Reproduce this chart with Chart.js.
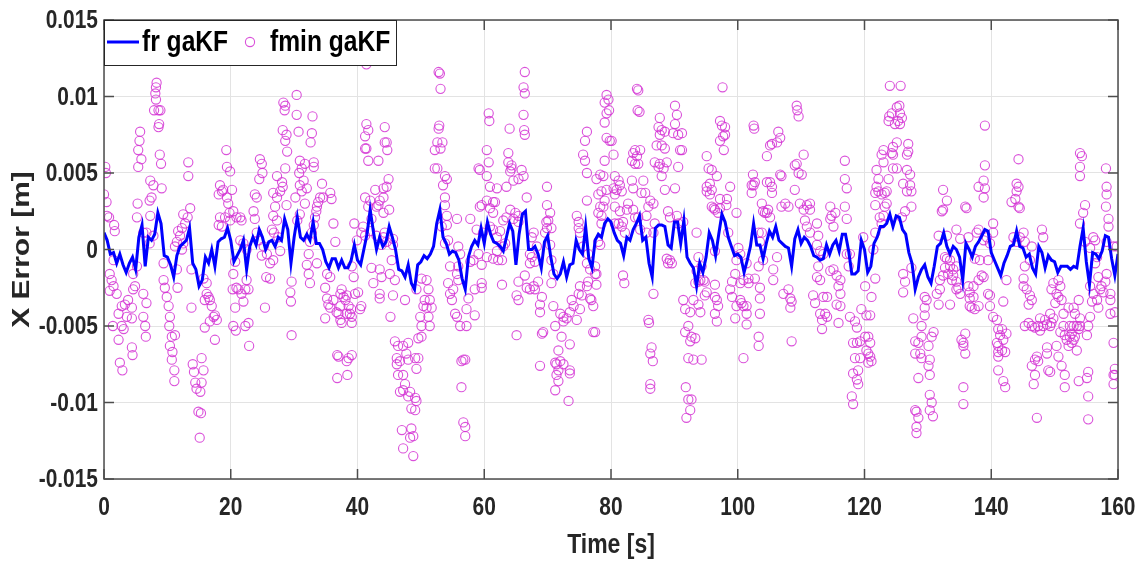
<!DOCTYPE html>
<html>
<head>
<meta charset="utf-8">
<script src="https://cdn.jsdelivr.net/npm/chart.js@4"></script>
<style>
  body { margin: 0; background: #fff; }
  #wrap { width: 1148px; height: 568px; }
</style>
</head>
<body>
<div id="wrap"><canvas id="errChart"></canvas></div>
<script>
// X position error of both filters over the run (errors kept in mm, plotted in m)

// fr gaKF, one sample every frStep seconds from t = 0
const frStep = 0.5;
const frErrMm = [
  1.1, 0.6, -0.3, -0.2, -0.9, -0.3, -1.0, -1.5, -0.9, -0.5, -1.3, 0.8, 1.6, -1.1, 0.8, 0.6, 1.0, 2.4, 1.7, -0.4,
  -0.5, -1.0, -1.8, -0.4, 0.2, 0.4, 0.6, 1.4, -0.9, -1.3, -2.4, -2.0, -0.5, -0.9, 0.0, -1.1, 0.5, 0.7, 0.8, 1.4,
  0.6, -0.8, -0.4, 0.0, 0.6, -1.3, 0.2, 0.8, 0.3, 1.3, 0.8, 0.0, 0.5, 0.6, 0.2, 0.8, 0.6, 2.0, 1.3, -0.9,
  0.8, 2.1, 0.8, 0.6, 1.0, 0.6, 1.8, 0.4, 0.4, 0.0, -0.8, -1.2, -0.6, -0.6, -1.2, -0.7, -1.2, -1.2, -0.7, 0.3,
  -0.7, -1.0, 0.0, 1.0, 2.6, 1.2, 0.0, 0.8, 0.2, 0.5, 1.5, 0.8, 0.0, -1.3, -1.4, -1.8, -1.0, -2.2, -2.6, -1.0,
  -0.8, -0.4, -0.6, -0.3, 0.2, 1.7, 2.6, 0.8, 0.4, -0.3, -0.1, -0.2, -0.7, -1.9, -2.6, -0.5, 0.2, 0.6, 0.3, 1.4,
  0.4, 1.8, 1.0, 0.5, 0.4, 0.2, -0.1, 0.8, 1.7, 1.2, -1.0, 1.0, 2.3, 2.5, 0.0, 0.0, 0.2, -0.3, -1.2, 0.5,
  0.9, -0.5, -1.6, -1.9, -1.6, -0.8, -1.8, -1.0, -0.9, 0.6, 0.0, -0.3, 1.5, -0.6, -1.2, 0.6, 1.0, 0.8, 1.7, 2.0,
  1.8, 1.1, 0.6, 0.4, -0.4, 0.8, 0.6, 1.3, 1.7, 2.2, 0.6, 0.8, -0.9, -1.8, 1.4, 1.6, 1.6, 1.5, 0.3, 0.1,
  1.8, 1.8, 0.4, 1.9, -0.5, -0.9, -1.2, -2.4, -0.9, -1.5, -0.5, 1.1, 0.6, -0.4, 1.0, 2.3, 1.8, 0.8, 0.2, -0.4,
  -0.3, -0.5, -1.5, -0.7, 0.2, 1.7, 0.3, 0.3, -0.6, 0.4, 1.2, 0.8, 1.5, 0.6, 0.4, 0.2, 0.1, -1.1, 0.7, 1.3,
  0.4, 0.8, 0.6, 0.2, -0.4, -0.5, -0.7, -0.6, 0.3, -0.3, 0.3, 0.6, -0.1, 1.0, 1.0, -0.1, -1.6, -1.6, -1.4, 0.6,
  0.0, -1.5, -1.1, 0.4, 0.8, 1.5, 1.5, 1.7, 2.3, 1.5, 2.2, 2.1, 1.3, 1.0, -0.2, -0.9, -2.6, -1.8, -1.3, -1.0,
  -1.8, -2.2, -1.1, 0.2, 0.4, 1.1, 0.2, -0.3, 0.2, 0.0, -0.5, -2.0, 0.4, 0.0, -0.5, 0.2, 0.5, 0.9, 1.3, 1.2,
  -0.2, -0.7, -1.2, -1.7, -0.9, -0.4, 0.2, 0.3, 1.2, 0.2, 0.1, -0.5, -0.3, -1.2, -1.6, 0.2, -0.2, -1.2, -0.4, -0.7,
  -0.8, -1.5, -1.1, -1.1, -1.1, -1.3, -1.1, -1.2, 0.2, 1.4, -0.8, -2.3, -0.2, -0.3, -0.6, -0.1, 0.9, 0.8, -0.6, -1.7,
  -0.3
];

// fmin gaKF, [time s, error mm]
const fminSamples = [
  [8.3,10.9],[8.2,10.6],[8.1,10.2],[8.2,9.8],[7.9,9.1],[8.6,9.1],[8.9,9.1],[8.7,8.2],[8.6,8.0],[8.8,6.2],[9.0,5.6],
  [5.7,7.7],[5.6,7.1],[5.4,6.5],[5.9,5.9],[5.4,5.4],[0.2,5.4],[0.3,5.0],[0.0,3.6],[0.4,3.1],[0.5,2.2],[0.8,2.1],
  [1.6,1.6],[1.7,1.2],[1.5,-0.7],[7.3,4.5],[7.8,4.2],[7.5,3.4],[7.2,3.2],[9.1,4.0],[5.3,3.0],[5.2,2.1],[7.3,2.2],
  [6.2,1.1],[6.7,1.1],[7.8,0.9],[7.2,0.4],[13.3,5.7],[13.3,4.8],[12.5,2.3],[13.2,2.1],[13.6,2.7],[12.8,1.7],[12.3,1.4],
  [12.0,0.9],[11.7,1.2],[11.5,0.5],[12.5,0.4],[11.2,0.2],[12.3,0.0],[13.8,-1.3],[0.9,-1.6],[1.2,-2.0],[1.5,-2.4],
  [0.9,-2.7],[2.0,-2.9],[2.8,-3.7],[2.3,-4.2],[3.3,-3.6],[3.8,-3.3],[4.4,-3.8],[3.6,-4.4],[4.4,-4.5],[2.8,-5.0],
  [1.4,-5.0],[2.3,-5.9],[3.1,-5.2],[2.5,-7.4],[2.9,-7.9],[4.4,-6.4],[4.5,-6.9],[4.6,-2.6],[4.9,-2.4],[6.2,-2.9],
  [6.7,-3.5],[6.5,-5.0],[6.6,-5.7],[6.2,-4.4],[5.2,-1.1],[4.6,-1.6],[9.4,-2.0],[9.6,-2.5],[9.9,-3.1],[10.2,-3.7],
  [10.4,-4.4],[10.3,-5.0],[10.7,-5.7],[11.2,-5.6],[10.4,-6.3],[10.8,-6.7],[10.7,-7.2],[11.1,-7.9],[11.1,-8.6],
  [9.4,-0.9],[11.5,-1.3],[11.6,-2.5],[14.0,-7.5],[14.2,-8.0],[14.4,-8.7],[14.6,-9.1],[15.2,-9.3],[15.4,-8.7],
  [15.7,-7.9],[15.4,-7.1],[14.9,-10.6],[15.3,-10.7],[15.1,-12.3],[13.8,-3.8],[15.9,-3.3],[16.2,-2.9],[16.5,-3.1],
  [16.7,-3.3],[17.0,-3.7],[15.7,-1.9],[16.2,-2.2],[17.3,-4.4],[17.8,-4.6],[17.5,-5.9],[15.9,-5.1],[16.7,-4.7],
  [17.5,-4.3],[18.3,4.2],[18.6,3.8],[18.1,3.6],[18.8,3.9],[19.4,3.4],[19.6,3.0],[19.3,6.5],[19.4,5.4],[19.9,5.1],
  [20.2,3.9],[19.8,2.4],[19.9,1.9],[18.3,2.1],[18.1,1.6],[18.6,1.5],[19.1,2.1],[20.4,2.5],[20.9,2.1],[21.5,2.1],
  [21.7,1.9],[21.5,0.6],[22.0,0.4],[22.5,0.0],[20.7,-0.8],[20.4,-1.6],[20.9,-2.5],[20.3,-2.6],[21.2,-2.6],
  [21.7,-2.9],[22.5,-2.0],[22.3,-2.6],[22.8,-2.6],[22.0,-3.4],[20.7,-3.8],[20.4,-5.0],[20.8,-5.3],[22.3,-5.0],
  [22.8,-4.8],[22.9,-6.3],[24.6,5.9],[24.9,5.6],[25.0,5.0],[24.5,4.6],[23.8,3.6],[24.1,3.4],[23.6,2.5],[23.8,2.0],
  [24.1,1.1],[24.4,0.6],[25.2,0.2],[25.7,-0.3],[24.9,-0.4],[26.2,-0.9],[26.7,-0.7],[26.2,-1.9],[25.6,-1.8],
  [25.4,-3.8],[28.3,9.6],[28.6,9.4],[28.5,9.1],[30.4,10.1],[30.4,8.8],[30.7,7.7],[28.2,7.8],[28.8,7.5],[28.6,7.1],
  [28.9,6.4],[28.6,5.3],[27.3,4.8],[28.1,4.4],[28.2,4.1],[27.8,3.8],[26.7,3.7],[27.3,3.4],[27.0,2.8],[26.7,2.2],
  [27.3,1.9],[26.5,1.3],[26.8,1.1],[27.5,0.8],[28.8,2.9],[27.8,-0.1],[32.9,8.7],[32.8,7.6],[32.6,7.0],[33.1,5.7],
  [33.1,5.4],[30.9,5.8],[31.7,5.6],[31.2,5.3],[30.8,5.0],[30.9,4.2],[31.5,4.5],[32.0,4.0],[31.2,3.8],[31.7,3.0],
  [30.9,2.3],[30.5,1.9],[30.2,3.4],[34.4,4.3],[34.1,3.4],[33.8,3.1],[34.6,3.4],[33.6,2.8],[33.5,2.5],[33.3,2.1],
  [33.1,1.6],[32.8,1.1],[32.5,0.5],[32.3,-0.3],[32.0,-1.0],[32.3,-1.6],[32.5,-2.2],[33.6,-0.9],[29.6,-2.1],
  [29.4,-2.8],[29.5,-3.4],[29.6,-5.6],[35.7,3.7],[35.9,3.3],[36.2,1.7],[36.5,0.5],[35.2,-1.6],[35.7,-1.8],
  [34.9,-2.5],[35.2,-3.2],[35.4,-3.6],[35.7,-3.8],[34.9,-4.5],[36.2,-3.3],[36.7,-4.1],[37.0,-4.2],[37.3,-3.7],
  [37.3,-2.9],[37.5,-2.6],[37.8,-3.1],[38.1,-3.3],[38.3,-3.0],[38.6,-3.7],[38.3,-4.2],[37.3,-4.6],[37.5,-4.8],
  [38.8,-4.2],[39.1,-4.4],[39.4,-1.8],[39.6,-2.9],[39.5,1.7],[39.9,0.6],[40.4,-3.9],[36.8,-6.9],[37.0,-7.0],
  [36.8,-8.4],[38.3,-7.3],[38.6,-7.1],[39.1,-6.9],[38.4,-8.2],
  [41.4,12.1],[41.4,8.2],[41.7,7.8],[41.2,7.4],[41.2,6.6],[41.4,6.6],[41.7,5.8],[43.3,5.8],[44.3,8.0],[44.3,7.0],
  [44.6,7.0],[44.7,6.5],[41.2,3.4],[42.0,3.2],[42.8,3.9],[44.1,4.0],[44.6,4.1],[44.9,4.6],[44.1,3.4],[43.5,3.2],
  [43.3,2.9],[43.0,2.8],[41.7,2.8],[42.2,2.0],[44.1,2.4],[45.0,2.6],[40.9,1.5],[40.6,1.1],[41.2,0.9],[42.0,1.2],
  [43.0,0.9],[44.1,0.8],[44.3,1.1],[44.6,0.5],[45.6,0.7],[45.6,0.3],[43.8,0.3],[45.4,-0.7],[45.1,-1.6],[45.9,-2.0],
  [45.6,-3.0],[42.2,-1.2],[42.5,-2.2],[43.5,-1.3],[43.8,-1.8],[43.5,-2.9],[43.5,-3.2],[40.6,-3.7],[40.1,-2.8],
  [39.1,-1.1],[39.0,-3.9],[39.1,-4.8],[45.2,-4.4],[45.9,-6.0],[46.4,-6.3],[47.2,-6.3],[48.0,-6.1],[46.2,-7.1],
  [46.7,-7.3],[46.2,-7.5],[46.4,-8.2],[47.2,-8.2],[47.7,-6.8],[48.0,-7.2],[47.5,-8.8],[46.7,-9.3],[47.2,-9.2],
  [48.3,-9.3],[48.0,-9.6],[49.1,-9.7],[48.5,-10.4],[49.1,-10.5],[49.3,-9.9],[49.1,-7.1],[49.3,-7.8],[49.6,-7.1],
  [47.0,-11.8],[48.5,-11.7],[48.8,-12.2],[48.3,-12.3],[47.2,-13.0],[48.8,-13.5],[47.5,-3.3],[49.3,-2.6],
  [50.1,-1.9],[50.9,-2.0],[51.2,-2.6],[50.6,-3.3],[50.9,-3.8],[51.4,-3.3],[50.4,-3.7],[49.9,-4.4],[50.1,-5.0],
  [49.6,-5.8],[51.2,-4.4],[51.4,-5.0],[50.1,-5.7],[51.7,-3.8],[52.8,11.6],[53.0,11.5],[53.1,10.5],[52.9,8.1],
  [52.8,7.9],[52.6,7.0],[53.4,7.0],[53.1,6.6],[52.2,6.5],[52.2,5.3],[52.6,5.3],[53.8,4.8],[54.1,4.6],[53.5,4.2],
  [53.8,3.4],[53.8,2.9],[54.1,2.2],[54.1,1.6],[53.3,1.5],[54.3,0.6],[53.8,0.4],[54.6,-1.1],[54.3,-2.2],[54.6,-2.9],
  [55.1,-2.6],[54.9,-3.3],[55.7,2.0],[55.9,0.2],[56.2,-0.3],[55.9,-1.1],[55.7,-1.6],[55.9,-2.0],[55.4,-4.2],
  [55.7,-4.4],[56.2,-5.0],[57.2,-5.0],[56.7,-7.2],[57.0,-7.2],[56.4,-7.3],[56.4,-9.0],[56.7,-11.3],[57.0,-11.6],
  [57.0,-12.2],[57.5,-3.2],[57.2,-3.9],[58.5,-4.3],[57.8,-0.8],[58.3,-0.7],[59.1,-0.3],[58.8,1.3],[57.8,2.0],
  [59.6,-1.0],[59.6,-2.2],[59.6,-2.5],[58.5,-2.6],[60.7,8.9],[60.8,8.4],[60.4,6.5],[60.7,5.7],[59.1,5.3],[59.3,5.2],
  [60.4,4.8],[60.9,4.1],[59.3,2.8],[59.6,2.9],[60.4,3.2],[61.4,3.1],[60.9,2.7],[62.0,4.0],[61.7,3.1],[61.4,2.4],
  [60.9,1.5],[61.4,1.3],[62.0,0.8],[62.5,1.2],[62.0,-0.1],[62.2,-0.7],[63.3,0.4],[63.0,1.9],[63.5,2.1],[64.1,2.6],
  [64.6,2.0],[64.9,2.4],[65.4,1.8],[65.4,2.2],[63.5,4.1],[64.1,5.1],[64.3,5.5],[63.8,5.7],[64.3,5.3],[64.6,4.5],
  [63.8,6.3],[64.0,7.9],[63.0,0.2],[62.8,-2.3],[65.4,-2.1],[65.1,-3.0],[65.4,-3.3],[65.1,-5.6],[62.8,-0.7],
  [61.4,-0.6],[60.4,-0.5],[59.8,1.1],[66.4,11.6],[66.2,10.6],[66.4,10.2],[66.2,8.8],[66.3,7.8],[66.4,7.5],
  [66.7,3.4],[65.9,5.2],[66.2,4.8],[65.4,4.6],[67.5,0.8],[67.8,1.1],[68.3,0.2],[67.5,-0.5],[67.2,-0.9],[68.0,-0.8],
  [66.4,-1.7],[66.7,-2.5],[67.2,-2.6],[67.8,-2.4],[68.0,-2.6],[67.2,-0.3],[68.5,-2.1],[69.9,4.1],[69.9,2.9],
  [70.4,2.4],[70.1,1.9],[70.6,1.4],[69.8,1.8],[69.9,1.4],[69.6,1.1],[70.4,0.3],[70.6,-0.7],[70.9,-1.6],[70.6,-2.2],
  [69.1,-3.1],[68.8,-3.6],[68.8,-4.1],[69.1,-5.5],[69.3,-5.4],[68.8,-7.6],[70.9,-3.7],[72.0,-4.2],[71.2,-5.0],
  [72.5,-4.4],[72.5,-4.7],[73.0,-4.5],[73.5,-4.1],[73.8,-3.3],[74.1,-3.7],[74.6,-4.6],[75.1,-3.9],[74.9,-2.9],
  [75.4,-3.0],[75.1,-2.4],[76.2,-2.4],[76.4,-2.1],[76.7,-3.2],[76.9,-3.3],[77.2,-3.7],[77.5,-1.6],[77.7,-2.3],
  [77.2,-5.4],[77.5,-5.4],[73.5,-6.2],[72.2,-5.7],[71.7,-6.6],[71.2,-7.4],[71.4,-7.5],[71.7,-7.9],[72.0,-7.3],
  [71.4,-8.2],[71.2,-9.2],[71.7,-8.6],[72.5,-7.5],[73.5,-7.9],[73.3,-9.9],[73.5,-8.1],[74.6,2.2],[74.9,1.8],
  [75.1,1.1],[74.9,1.4],[75.6,0.2],[76.4,-0.3],[76.2,-0.9],[76.7,-1.3],[77.5,-1.1],[77.7,-1.6],[78.0,0.5],
  [78.3,0.3],[78.0,3.6],[78.0,2.4],[78.5,1.7],[76.2,7.7],[75.9,7.1],[75.6,6.2],[75.9,5.8],[76.2,5.0],[76.2,3.2],
  [77.7,4.6],[78.3,4.9],[78.3,2.8],
  [79.3,10.1],[79.6,9.8],[79.0,9.6],[79.7,9.1],[79.3,8.9],[79.0,8.3],[79.3,7.3],[79.8,7.1],[80.1,7.1],[80.4,6.2],
  [79.0,5.8],[78.8,4.8],[78.5,3.8],[79.3,3.9],[79.0,3.2],[78.8,2.8],[78.5,2.2],[80.6,4.8],[81.2,4.5],[81.4,4.2],
  [80.4,4.0],[80.9,3.9],[80.6,3.6],[81.7,3.8],[80.6,2.8],[81.4,2.5],[80.6,1.7],[81.2,1.7],[81.9,1.8],[81.7,1.5],
  [82.2,1.1],[82.5,2.6],[82.7,3.0],[83.3,4.5],[83.5,4.0],[83.3,5.8],[83.5,6.3],[83.8,5.6],[84.1,6.1],[84.3,5.6],
  [84.6,6.5],[83.8,6.5],[84.1,10.5],[84.3,10.4],[84.2,9.1],[84.5,9.0],[85.1,4.5],[84.8,3.7],[85.4,3.7],[86.2,3.2],
  [85.9,2.8],[86.7,3.0],[85.6,2.2],[83.5,2.6],[83.8,2.1],[84.3,2.1],[84.6,1.3],[85.6,1.1],[86.7,1.1],[86.9,1.7],
  [81.9,-1.7],[82.1,-2.2],[86.7,-2.9],[85.9,-4.6],[86.0,-4.8],[86.4,-6.4],[86.2,-6.8],[86.6,-7.3],[86.2,-8.8],
  [86.2,-9.1],[87.7,8.6],[87.5,8.0],[88.0,7.8],[88.5,7.7],[87.7,7.5],[87.2,6.8],[88.0,6.8],[88.5,6.6],[86.9,5.7],
  [87.5,5.4],[87.7,5.6],[88.8,5.7],[88.3,5.3],[88.0,4.8],[88.5,3.9],[89.0,2.5],[89.3,2.1],[90.4,2.2],[90.6,1.7],
  [91.4,1.8],[90.1,9.4],[90.4,8.8],[90.1,8.2],[89.8,7.6],[90.6,7.5],[91.2,7.6],[90.9,6.5],[91.2,6.5],[90.6,5.4],
  [90.1,4.0],[88.8,-0.6],[89.3,-0.7],[89.6,-0.9],[89.0,-0.9],[91.4,-3.3],[91.7,-3.9],[92.5,-4.1],[92.2,-5.0],
  [91.7,-5.4],[92.7,-5.7],[93.3,-5.8],[92.5,-6.0],[92.2,-7.1],[93.0,-7.2],[94.3,-7.2],[91.8,-9.0],[92.2,-9.8],
  [92.7,-9.8],[92.5,-10.5],[91.9,-11.0],[93.5,1.1],[93.8,-0.5],[93.5,-1.4],[94.1,-2.0],[94.6,-2.0],[93.8,-2.1],
  [94.8,-2.1],[93.3,-2.2],[94.3,-1.1],[93.0,-3.3],[93.8,-3.6],[94.1,-4.1],[94.8,-3.0],[95.1,-2.8],[96.4,-2.3],
  [95.1,6.1],[95.4,5.3],[95.9,5.2],[95.1,4.1],[95.6,4.3],[95.9,3.9],[95.1,3.8],[96.7,4.8],[95.6,3.6],[95.9,2.8],
  [96.2,2.7],[96.4,2.6],[97.2,2.7],[96.9,2.4],[97.2,3.3],[98.3,3.3],[98.2,2.9],[98.5,1.1],[98.8,4.1],[97.2,8.4],
  [97.5,8.1],[97.7,7.4],[98.0,7.5],[97.2,7.1],[98.0,8.0],[97.8,6.5],[97.6,10.6],[96.4,-3.1],[96.7,-3.3],[96.9,-3.7],
  [96.4,-4.2],[96.7,-4.7],[96.4,-0.1],[99.8,2.4],[99.8,-0.7],[99.6,-1.6],[99.1,-2.1],[98.8,-2.6],[99.1,-3.1],
  [99.8,-3.7],[100.6,-3.5],[100.9,-3.7],[101.4,-3.7],[100.4,-3.3],[101.4,-4.2],[101.4,-4.9],[100.9,-7.1],
  [99.6,-4.5],[100.1,0.1],[100.4,-0.3],[101.4,-0.9],[101.7,-1.9],[101.7,-2.2],[100.9,-2.0],[100.4,-2.2],
  [102.2,4.2],[102.5,4.2],[102.2,3.7],[102.7,4.4],[102.4,4.9],[102.5,8.1],[102.6,7.9],[103.8,3.0],[104.0,2.5],
  [104.3,2.4],[104.6,2.4],[104.8,2.6],[105.1,2.1],[104.6,6.1],[105.1,6.8],[105.4,6.9],[106.2,7.0],[106.7,7.3],
  [106.4,7.7],[105.4,4.1],[105.1,4.4],[104.6,4.4],[105.4,3.7],[106.7,4.9],[106.9,4.8],[106.9,2.8],[107.5,3.0],
  [108.0,2.8],[103.3,1.1],[103.8,1.1],[103.5,0.5],[104.0,-0.7],[103.3,-1.1],[102.7,-1.9],[103.5,-2.5],[103.5,-3.2],
  [103.5,-4.2],[103.3,-5.7],[103.3,-6.3],[105.6,-1.3],[105.6,-2.0],[106.2,-0.5],[107.2,-2.9],[108.0,-2.6],
  [108.3,-3.2],[108.5,-3.4],[108.3,-3.8],[108.5,-6.0],[109.3,9.4],[109.4,9.1],[109.6,8.7],[109.0,5.5],[109.3,5.6],
  [109.6,5.0],[110.1,4.9],[110.4,6.2],[109.0,3.9],[109.8,3.0],[110.4,2.6],[110.9,2.9],[111.4,3.0],[111.4,2.6],
  [110.6,1.9],[110.9,1.5],[111.4,1.1],[112.5,1.7],[112.7,0.9],[112.5,0.3],[113.0,-0.1],[113.5,-0.3],[112.7,-1.1],
  [113.0,-2.0],[112.5,-1.8],[111.9,-3.0],[112.2,-3.5],[113.0,-4.2],[113.3,-4.6],[113.8,-4.2],[114.1,-4.4],
  [113.3,-5.2],[113.5,-3.1],[114.1,-3.1],[114.6,-1.4],[115.1,-1.3],[115.6,-1.7],[115.9,-2.4],[116.2,-2.0],
  [115.6,-3.6],[116.2,-3.7],[115.9,-4.8],[116.2,-2.9],[116.9,5.8],[116.9,4.6],[117.2,4.0],[116.9,2.8],[117.2,2.0],
  [114.6,2.0],[114.8,2.2],[115.4,2.4],[115.1,1.5],[114.6,2.8],[117.2,-0.3],[117.5,-1.1],[117.7,-0.3],
  [124.0,10.7],[125.7,10.7],[123.9,8.7],[124.3,8.9],[123.8,8.4],[125.1,9.3],[125.5,9.4],[125.6,8.9],[125.3,8.4],
  [125.6,8.2],[125.9,8.6],[124.8,8.2],[125.1,7.0],[124.5,6.7],[124.3,6.3],[124.5,6.2],[123.0,6.5],[122.7,6.2],
  [123.0,5.7],[121.9,5.2],[122.2,4.6],[123.8,4.6],[123.5,3.8],[123.2,3.7],[122.7,3.6],[122.2,3.8],[121.9,4.1],
  [121.7,3.7],[121.7,2.9],[123.2,2.8],[123.5,3.0],[123.0,2.2],[122.4,2.1],[122.7,1.7],[124.5,5.3],[125.1,5.3],
  [126.9,6.9],[126.9,6.4],[126.7,6.2],[126.7,5.2],[127.2,4.9],[126.1,4.3],[127.2,4.2],[126.7,3.8],[127.4,3.8],
  [127.4,2.8],[126.4,2.5],[125.9,2.1],[126.1,-1.6],[126.4,-2.1],[126.1,-2.8],[127.4,-1.2],[121.7,1.1],[121.4,0.0],
  [121.7,-1.9],[119.8,0.8],[120.1,-2.4],[121.1,-3.1],[119.5,-3.9],[120.3,-4.3],[120.9,-4.3],[117.7,-4.4],
  [118.5,-4.7],[118.8,-5.1],[118.2,-6.1],[118.8,-6.1],[119.3,-6.0],[118.5,-7.1],[120.1,-5.7],[120.6,-5.7],
  [120.9,-6.1],[120.3,-6.6],[120.6,-6.8],[120.9,-7.0],[121.1,-7.3],[120.6,-7.4],[119.3,-7.1],[119.0,-7.9],
  [118.8,-8.5],[119.0,-8.8],[118.2,-8.1],[118.0,-9.6],[118.2,-10.1],[127.7,-4.5],[128.0,-6.0],[128.5,-6.1],
  [128.0,-6.8],[128.8,-6.8],[129.0,-7.1],[128.5,-8.4],[129.0,-5.0],[129.0,-5.7],[129.5,-3.8],[129.5,-4.3],
  [130.1,-6.3],[130.3,-7.2],[130.1,-7.6],[130.3,-8.2],[130.6,-5.7],[130.9,-5.4],[129.5,-3.1],[129.8,-3.3],
  [130.3,-9.5],[130.6,-10.0],[130.3,-10.5],[130.8,-10.9],[128.0,-10.5],[128.2,-10.6],[128.5,-11.0],[128.2,-11.6],
  [128.2,-12.0],[131.9,-2.6],[131.4,-2.9],[131.7,-3.6],[131.9,-2.0],[132.7,-1.2],[132.4,-1.7],[133.5,-0.7],
  [133.5,-1.1],[133.2,-1.6],[134.0,-1.3],[134.0,-1.7],[133.8,-2.0],[134.5,-1.1],[134.5,-2.1],[134.8,-2.5],
  [133.5,-3.6],[135.1,-2.9],[134.5,-2.6],[132.7,-0.5],[133.0,-0.6],[132.4,3.9],[133.0,3.2],[132.2,2.5],[132.4,2.6],
  [131.7,0.9],[133.0,0.9],[134.5,1.3],[135.1,0.7],[136.4,0.8],[136.1,2.7],[135.9,2.8],[138.0,4.1],[139.0,4.0],
  [138.8,4.5],[139.0,5.5],[139.0,8.1],[138.8,3.4],[138.0,1.3],[137.7,1.1],[138.8,0.6],[139.3,0.8],[137.4,-0.6],
  [138.2,-0.7],[139.5,-0.7],[140.3,1.7],[140.3,1.1],[139.8,0.4],[135.3,-5.9],[135.6,-6.1],[135.9,-5.5],[135.6,-6.3],
  [135.9,-6.8],[135.6,-9.0],[135.6,-10.1],[136.6,-3.2],[136.9,-3.8],[137.2,-3.1],[137.4,-3.9],[138.0,-3.7],
  [136.6,-3.7],[136.4,-2.4],[136.6,-2.8],[137.2,-2.4],[138.0,-2.0],[138.5,-1.7],[138.8,-1.8],[139.5,-2.9],
  [139.8,-3.0],[139.8,-3.7],[140.3,-4.4],[140.9,-4.6],[141.1,-5.2],[141.4,-5.6],[141.7,-5.2],[141.9,-5.9],
  [142.4,-5.5],[140.9,-6.1],[141.1,-6.3],[141.1,-6.7],[141.7,-6.6],[142.2,-6.7],[141.1,-7.0],[141.9,-8.6],
  [142.2,-9.0],[141.1,-7.9],[141.9,-3.4],[142.4,-2.0],[144.0,4.3],[144.3,4.1],[144.0,3.8],[143.8,3.3],[144.3,2.8],
  [144.5,2.7],[144.3,5.9],[143.2,3.1],[143.5,0.8],[144.0,0.5],[144.5,0.8],[145.1,1.1],[145.3,0.5],[146.4,0.2],
  [148.0,1.3],[148.2,0.8],[146.1,-0.7],[145.3,-1.1],[145.1,-1.9],[145.1,-2.4],[145.6,-2.6],[146.1,-3.0],
  [146.4,-3.3],[145.9,-3.6],[145.9,-4.8],[145.3,-5.0],[146.4,-5.0],[146.9,-5.1],[147.4,-5.0],[147.7,-5.3],
  [148.2,-5.0],[148.8,-4.9],[149.3,-5.0],[149.5,-4.8],[147.7,-4.5],[148.5,-4.6],[149.3,-4.2],[149.8,-4.5],
  [149.5,-2.6],[149.8,-2.2],[150.6,-2.0],[150.9,-2.4],[150.3,-2.9],[150.6,-3.1],[150.1,-3.5],[151.1,-3.3],
  [151.4,-4.2],[152.2,-3.8],[153.0,-3.8],[153.2,-4.2],[153.8,-3.3],[154.0,-4.5],[152.4,-5.0],[153.0,-5.0],
  [153.5,-5.0],[154.0,-5.0],[153.8,-5.2],[152.7,-5.5],[151.4,-5.0],[151.6,-5.6],[150.9,-5.4],[147.2,-7.0],
  [146.9,-7.2],[146.4,-7.6],[146.9,-8.2],[146.7,-8.8],[147.4,-7.3],[148.8,-6.4],[148.8,-6.8],[149.0,-7.9],
  [149.3,-8.0],[150.3,-6.3],[150.6,-7.0],[151.1,-7.6],[151.6,-8.2],[151.6,-9.0],[152.2,-6.3],[153.0,-5.9],
  [152.4,-5.7],[153.5,-6.6],[153.2,-5.7],[152.7,-6.1],[151.9,-5.9],[147.2,-11.0],[154.0,6.3],[154.3,6.1],
  [154.0,5.4],[154.0,4.8],[154.8,2.9],[154.5,2.4],[154.0,1.7],[154.8,0.5],[156.1,0.8],[156.4,0.6],[155.6,0.1],
  [156.7,-0.5],[156.9,-1.8],[156.4,-0.9],[155.6,-2.4],[156.1,-2.9],[155.9,-3.4],[156.7,-3.3],[156.9,-3.8],
  [157.2,-2.6],[157.4,-2.4],[157.7,-2.8],[158.0,-2.1],[158.2,-1.6],[158.2,0.5],[158.5,1.5],[158.5,2.0],[158.1,2.8],
  [158.2,3.6],[158.2,4.1],[158.1,5.3],[159.3,0.2],[159.8,0.2],[158.8,-2.9],[158.8,-3.3],[158.8,-4.2],[159.5,-4.1],
  [159.3,-6.1],[159.3,-8.2],[159.5,-8.2],[159.3,-8.8],[159.5,-7.8],[155.1,-5.6],[155.3,-8.0],[155.1,-8.4],
  [155.3,-9.6],[155.3,-11.1],[155.6,-4.4],[155.3,-5.0],[153.8,-8.6]
];

const xTicks = [0, 20, 40, 60, 80, 100, 120, 140, 160];
const yTicks = [-0.015, -0.01, -0.005, 0, 0.005, 0.01, 0.015];

const boldSans = "'Liberation Sans', Arial, sans-serif";
const inkColor = '#262626';
const squeeze = 0.82; // lettering is drawn narrower than the face

const frPoints = frErrMm.map((mm, i) => ({ x: i * frStep, y: mm / 1000 }));
const fminPoints = fminSamples.map(([t, mm]) => ({ x: t, y: mm / 1000 }));

const tickText = v => String(Number(v.toFixed(3)));

// writes one label squeezed across, anchored at (x, y)
function squeezedText(ctx, text, x, y, size, align, color) {
  ctx.save();
  ctx.translate(x, y);
  ctx.scale(squeeze, 1);
  ctx.font = 'bold ' + size + 'px ' + boldSans;
  ctx.fillStyle = color || inkColor;
  ctx.textAlign = align;
  ctx.textBaseline = 'middle';
  ctx.fillText(text, 0, 0);
  ctx.restore();
}

// box round the plot with inward tick marks on all four sides
const axesBox = {
  id: 'axesBox',
  afterDatasetsDraw(chart) {
    const { ctx, chartArea: a, scales: { x, y } } = chart;
    const len = 10;
    ctx.save();
    ctx.strokeStyle = '#4d4d4d';
    ctx.lineWidth = 1.5;
    ctx.strokeRect(a.left, a.top, a.right - a.left, a.bottom - a.top);
    ctx.beginPath();
    x.ticks.forEach(t => {
      const px = x.getPixelForValue(t.value);
      ctx.moveTo(px, a.bottom); ctx.lineTo(px, a.bottom - len);
      ctx.moveTo(px, a.top); ctx.lineTo(px, a.top + len);
    });
    y.ticks.forEach(t => {
      const py = y.getPixelForValue(t.value);
      ctx.moveTo(a.left, py); ctx.lineTo(a.left + len, py);
      ctx.moveTo(a.right, py); ctx.lineTo(a.right - len, py);
    });
    ctx.stroke();
    ctx.restore();
  }
};

// tick numbers and axis titles
const axisText = {
  id: 'axisText',
  afterDraw(chart) {
    const { ctx, chartArea: a, scales: { x, y } } = chart;
    x.ticks.forEach(t => {
      squeezedText(ctx, tickText(t.value), x.getPixelForValue(t.value), a.bottom + 29, 25.5, 'center');
    });
    y.ticks.forEach(t => {
      squeezedText(ctx, tickText(t.value), a.left - 6, y.getPixelForValue(t.value) + 1, 25.5, 'right');
    });
    squeezedText(ctx, 'Time [s]', (a.left + a.right) / 2, 545, 28, 'center');

    ctx.save();
    ctx.translate(22, (a.top + a.bottom) / 2);
    ctx.scale(squeeze, 1);
    ctx.rotate(-Math.PI / 2);
    ctx.font = 'bold 30px ' + boldSans;
    ctx.fillStyle = inkColor;
    ctx.textAlign = 'center';
    ctx.textBaseline = 'middle';
    ctx.fillText('X Error [m]', 0, 0);
    ctx.restore();
  }
};

// legend box in the top left corner of the plot
const legendBox = {
  id: 'legendBox',
  afterDraw(chart) {
    const { ctx, chartArea: a } = chart;
    const [fr, fmin] = chart.data.datasets;
    const x0 = a.left, y0 = a.top, w = 292, h = 45;
    const cy = y0 + 22;
    ctx.save();
    ctx.fillStyle = '#fff';
    ctx.fillRect(x0, y0, w, h);
    ctx.strokeStyle = inkColor;
    ctx.lineWidth = 1;
    ctx.strokeRect(x0 + 0.5, y0 + 0.5, w, h);
    ctx.strokeStyle = fr.borderColor;
    ctx.lineWidth = fr.borderWidth;
    ctx.beginPath();
    ctx.moveTo(x0 + 3, cy);
    ctx.lineTo(x0 + 35, cy);
    ctx.stroke();
    ctx.strokeStyle = fmin.borderColor;
    ctx.lineWidth = fmin.borderWidth;
    ctx.beginPath();
    ctx.arc(x0 + 146, cy, fmin.pointRadius, 0, Math.PI * 2);
    ctx.stroke();
    ctx.restore();
    squeezedText(ctx, fr.label, x0 + 38, cy + 1, 30, 'left', '#000');
    squeezedText(ctx, fmin.label, x0 + 166, cy + 1, 30, 'left', '#000');
  }
};

new Chart(document.getElementById('errChart'), {
  type: 'scatter',
  data: {
    datasets: [
      {
        label: 'fr gaKF',
        data: frPoints,
        showLine: true,
        borderColor: '#0000ff',
        borderWidth: 3,
        pointRadius: 0,
        order: 0
      },
      {
        label: 'fmin gaKF',
        data: fminPoints,
        showLine: false,
        borderColor: 'rgba(212, 50, 212, 0.85)',
        backgroundColor: 'rgba(0, 0, 0, 0)',
        borderWidth: 1.1,
        pointRadius: 4.6,
        order: 1
      }
    ]
  },
  options: {
    responsive: true,
    maintainAspectRatio: false,
    animation: false,
    layout: { padding: { top: 20, right: 30, left: 0, bottom: 0 } },
    plugins: {
      legend: { display: false },
      tooltip: { enabled: false }
    },
    scales: {
      x: {
        type: 'linear',
        min: 0,
        max: 160,
        afterBuildTicks: s => { s.ticks = xTicks.map(v => ({ value: v })); },
        afterFit: s => { s.height = 89; },
        grid: { color: '#e3e3e3', drawTicks: false },
        border: { display: false },
        ticks: { display: false }
      },
      y: {
        type: 'linear',
        min: -0.015,
        max: 0.015,
        afterBuildTicks: s => { s.ticks = yTicks.map(v => ({ value: v })); },
        afterFit: s => { s.width = 104; },
        grid: { color: '#e3e3e3', drawTicks: false },
        border: { display: false },
        ticks: { display: false }
      }
    }
  },
  plugins: [axesBox, axisText, legendBox]
});
</script>
</body>
</html>
